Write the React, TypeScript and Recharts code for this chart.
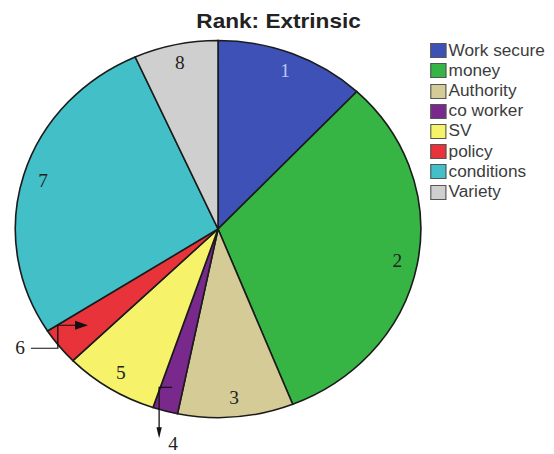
import { PieChart, Pie, Cell } from 'recharts';

const categories = ['Work secure', 'money', 'Authority', 'co worker', 'SV', 'policy', 'conditions', 'Variety'];
const shares = [12.0, 32.0, 9.2, 2.0, 7.5, 3.2, 27.4, 6.7];
const rankLabels = ['1', '2', '3', '4', '5', '6', '7', '8'];
const colors = ['#3d51b7', '#37b544', '#d5cb97', '#79298c', '#f6f36b', '#e8333b', '#42bfc7', '#cfcfcf'];

const data = categories.map((name, i) => ({ name, value: shares[i] }));

// the source image is stretched sideways, so the whole chart is too
const STRETCH = 1.0757;
const W = 515;
const H = 454;
const RAD = Math.PI / 180;

const digitFont = { fontFamily: '"Liberation Serif", "Times New Roman", serif', fontSize: 18 };

function polar(cx: number, cy: number, r: number, angle: number) {
  return [cx + r * Math.cos(-angle * RAD), cy + r * Math.sin(-angle * RAD)];
}

function RankLabel(props: any) {
  const { cx, cy, midAngle, outerRadius, index } = props;
  const rank = rankLabels[index];

  if (rank === '6') {
    const [x, y] = polar(cx, cy, outerRadius * 0.82, midAngle);
    return (
      <g>
        <path d={`M${x - 10},${y} H${x - 28} V${y + 23} H${x - 53}`} fill="none" stroke="#111" strokeWidth={1.2} />
        <path d={`M${x},${y} L${x - 12},${y - 4.5} L${x - 12},${y + 4.5} Z`} fill="#111" />
        <text x={x - 63} y={y + 29} textAnchor="middle" fill="#222" style={digitFont}>
          {rank}
        </text>
      </g>
    );
  }

  if (rank === '4') {
    const [x, y] = polar(cx, cy, outerRadius * 0.87, midAngle);
    return (
      <g>
        <path d={`M${x},${y} H${x - 12} V${y + 42}`} fill="none" stroke="#111" strokeWidth={1.2} />
        <path d={`M${x - 12},${y + 51} L${x - 14.5},${y + 40} L${x - 9.5},${y + 40} Z`} fill="#111" />
        <text x={x + 1} y={y + 63} textAnchor="middle" fill="#222" style={digitFont}>
          {rank}
        </text>
      </g>
    );
  }

  const [x, y] = polar(cx, cy, outerRadius * 0.9, midAngle);
  return (
    <text x={x} y={y + 6} textAnchor="middle" fill={rank === '1' ? '#b9c8f2' : '#222'} style={digitFont}>
      {rank}
    </text>
  );
}

export default function App() {
  return (
    <div
      style={{
        position: 'absolute',
        left: 0,
        top: 0,
        width: W,
        height: H,
        transform: `scaleX(${STRETCH})`,
        transformOrigin: '0 0',
        background: '#fff',
        overflow: 'hidden',
      }}
    >
      <div
        style={{
          position: 'absolute',
          left: 159,
          top: 10,
          width: 200,
          textAlign: 'center',
          fontFamily: '"Liberation Sans", Arial, sans-serif',
          fontWeight: 'bold',
          fontSize: 21,
          lineHeight: '21px',
          color: '#222',
        }}
      >
        Rank: Extrinsic
      </div>

      <PieChart width={W} height={H} margin={{ top: 0, right: 0, bottom: 0, left: 0 }}>
        <Pie
          data={data}
          dataKey="value"
          nameKey="name"
          cx={202.7}
          cy={229}
          outerRadius={188.5}
          startAngle={90}
          endAngle={-270}
          stroke="#1b1b1b"
          strokeWidth={1.5}
          label={RankLabel}
          labelLine={false}
          isAnimationActive={false}
        >
          {data.map((d, i) => (
            <Cell key={d.name} fill={colors[i]} />
          ))}
        </Pie>
      </PieChart>

      <div
        style={{
          position: 'absolute',
          left: 400,
          top: 40.6,
          fontFamily: '"Liberation Sans", Arial, sans-serif',
          fontSize: 16,
          color: '#3c3c3c',
        }}
      >
        {categories.map((name, i) => (
          <div key={name} style={{ display: 'flex', alignItems: 'center', height: 20.2 }}>
            <span
              style={{
                display: 'inline-block',
                width: 15,
                height: 15,
                boxSizing: 'border-box',
                border: '1px solid #555',
                background: colors[i],
                marginRight: 2,
              }}
            />
            <span style={{ lineHeight: '20.2px', whiteSpace: 'nowrap' }}>{name}</span>
          </div>
        ))}
      </div>
    </div>
  );
}
